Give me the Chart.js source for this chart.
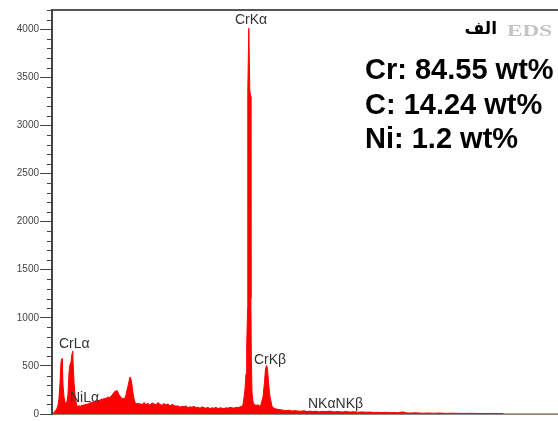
<!DOCTYPE html>
<html>
<head>
<meta charset="utf-8">
<script src="https://cdn.jsdelivr.net/npm/chart.js@4/dist/chart.umd.min.js"></script>
<style>
  html, body { margin: 0; padding: 0; background: #fff; }
  #wrap { position: relative; width: 558px; height: 421px; overflow: hidden; }
  canvas { position: absolute; left: 0; top: 0; }
  .comp { position: absolute; left: 365px; font: bold 29px "Liberation Sans", Arial, sans-serif; line-height: 29px; color: #000; white-space: nowrap; }
  #eds { position: absolute; left: 507px; top: 23px; font: bold 16px "Liberation Serif", "Times New Roman", serif; line-height: 16px; color: #c4c4c4; transform: scaleX(1.45); transform-origin: left top; }
  #alef { position: absolute; right: 61px; top: 18px; font: bold 17px "DejaVu Sans", sans-serif; line-height: 20px; color: #000; direction: rtl; }
</style>
</head>
<body>
<div id="wrap">
  <canvas id="c" width="558" height="421"></canvas>
  <div id="alef">الف</div>
  <div id="eds">EDS</div>
  <div class="comp" style="top:55px">Cr: 84.55 wt%</div>
  <div class="comp" style="top:90px">C: 14.24 wt%</div>
  <div class="comp" style="top:124px">Ni: 1.2 wt%</div>
</div>
<script>
// Spectrum: detector channel vs. counts
const channel = [
  0, 1, 2, 3, 4, 5, 6, 7, 8, 9, 10, 10.5, 11, 12, 13, 14, 15, 16, 17, 18, 19, 20, 20.7, 21, 22, 23, 24,
  25, 26, 27, 28, 29, 30, 31, 32, 33, 34, 35, 36, 37, 38, 39, 40, 41, 42, 43, 44, 45, 46, 47, 48, 49,
  50, 51, 52, 53, 54, 55, 56, 57, 58, 59, 60, 61, 62, 63, 64, 65, 66, 67, 68, 69, 70, 71, 72, 73, 74,
  75, 76, 77, 78, 79, 80, 81, 82, 83, 84, 85, 86, 87, 88,
  90, 92, 94, 96, 98, 100, 102, 104, 106, 108, 110, 112, 114, 116, 118, 120, 122, 124, 126, 128, 130,
  132, 134, 136, 138, 140, 142, 144, 146, 148, 150, 152, 154, 156, 158, 160, 162, 164, 166, 168, 170,
  172, 174, 176, 178, 180, 182, 184, 186, 188, 190,
  191, 192, 193, 194, 194.7, 195.6, 195.8, 196.8, 197.8, 198.6, 198.9, 199.3, 200, 201, 202,
  204, 206, 208, 209, 211, 212.5, 213.5, 214.7, 215.5, 216.5, 218, 220, 222,
  225, 228, 231, 234, 237, 240, 243, 246, 249, 252, 255, 258, 261, 264, 267, 270, 274, 278, 282, 286,
  290, 294, 298, 302, 306, 310, 314, 318, 322, 326, 330, 334, 338, 342, 346, 348, 351, 354, 358, 364,
  370, 376, 382, 388, 394, 400, 410, 420, 430, 440, 450, 452, 506
];
const counts = [
  0, 5, 15, 30, 40, 60, 90, 160, 320, 540, 575, 470, 300, 180, 120, 110, 130, 210, 430, 515, 540, 630, 655, 560, 330, 200, 130,
  85, 70, 90, 75, 85, 95, 80, 100, 90, 105, 95, 110, 100, 120, 110, 125, 115, 130, 120, 140, 125, 145, 135, 150, 140,
  160, 145, 165, 155, 170, 160, 180, 165, 175, 185, 195, 210, 225, 235, 240, 245, 225, 200, 185, 175, 160, 165, 155, 170, 200,
  250, 290, 340, 385, 360, 300, 220, 160, 120, 110, 105, 115, 100, 110,
  95, 120, 100, 110, 90, 115, 105, 95, 120, 100, 90, 110, 95, 105, 85, 100, 90, 80, 85, 70, 80,
  75, 85, 65, 75, 70, 80, 65, 70, 60, 75, 65, 60, 70, 55, 65, 60, 70, 55, 65, 60,
  55, 65, 60, 70, 65, 60, 70, 65, 75, 80,
  100, 170, 260, 420, 710, 1100, 3370, 4010, 3370, 3300, 1200, 600, 220, 130, 100,
  90, 95, 80, 100, 180, 330, 470, 505, 470, 330, 180, 80, 60,
  50, 45, 40, 35, 40, 30, 35, 30, 28, 35, 25, 30, 25, 30, 22, 28, 25, 30, 22, 26,
  20, 25, 20, 24, 18, 22, 18, 20, 16, 18, 15, 18, 14, 16, 12, 18, 22, 12, 10, 12,
  8, 10, 8, 10, 6, 8, 6, 7, 5, 6, 5, 0, 0
];

// Count axis
const yMax = 4200;
const majorTicks = [0, 500, 1000, 1500, 2000, 2500, 3000, 3500, 4000];
const majorLabels = ['0', '500', '1000', '1500', '2000', '2500', '3000', '3500', '4000'];
const minorStep = 100;

// Line identifications
const peakNames = ['CrKα', 'CrLα', 'NiLα', 'CrKβ', 'NKαNKβ'];
const peakX = [183, 7, 18, 202, 256];
const peakY = [4056, 688, 128, 524, 62];

const axisColor = '#444';

const minorTickPlugin = {
  id: 'minorTicks',
  afterDraw(chart) {
    const y = chart.scales.y;
    const ctx = chart.ctx;
    ctx.save();
    ctx.strokeStyle = axisColor;
    ctx.lineWidth = 1;
    ctx.beginPath();
    for (let v = minorStep; v <= yMax; v += minorStep) {
      if (majorTicks.includes(v)) continue;
      const py = Math.round(y.getPixelForValue(v)) + 0.5;
      ctx.moveTo(y.right - 5, py);
      ctx.lineTo(y.right, py);
    }
    ctx.stroke();
    ctx.restore();
  }
};

const peakLabelPlugin = {
  id: 'peakLabels',
  afterDatasetsDraw(chart) {
    const { ctx, scales: { x, y } } = chart;
    ctx.save();
    ctx.font = '14px "Liberation Sans", Arial, sans-serif';
    ctx.fillStyle = '#333';
    ctx.textAlign = 'left';
    ctx.textBaseline = 'alphabetic';
    peakNames.forEach((t, i) => {
      ctx.fillText(t, x.getPixelForValue(peakX[i]), y.getPixelForValue(peakY[i]));
    });
    ctx.restore();
  }
};

new Chart(document.getElementById('c'), {
  type: 'line',
  data: {
    datasets: [{
      data: channel.map((c, i) => ({ x: c, y: counts[i] })),
      borderColor: '#ff0000',
      backgroundColor: '#ff0000',
      borderWidth: 1,
      pointRadius: 0,
      tension: 0,
      fill: 'origin'
    }]
  },
  options: {
    responsive: false,
    animation: false,
    layout: { padding: 0 },
    plugins: { legend: { display: false }, tooltip: { enabled: false }, title: { display: false } },
    scales: {
      x: {
        type: 'linear', position: 'bottom', min: 0, max: 506,
        ticks: { display: false },
        grid: { display: false },
        border: { display: true, color: '#888', width: 1 },
        afterFit: s => { s.height = 2; }
      },
      xTop: {
        type: 'linear', position: 'top', min: 0, max: 506,
        ticks: { display: false },
        grid: { display: false },
        border: { display: true, color: '#555', width: 2 },
        afterFit: s => { s.height = 10; }
      },
      y: {
        type: 'linear', position: 'left', min: 0, max: yMax,
        afterBuildTicks: s => { s.ticks = majorTicks.map(v => ({ value: v })); },
        ticks: {
          color: axisColor,
          padding: 1,
          font: { family: '"Liberation Sans", Arial, sans-serif', size: 10 },
          callback: v => majorLabels[majorTicks.indexOf(v)]
        },
        grid: { drawOnChartArea: false, tickLength: 12, tickColor: axisColor, tickWidth: 1 },
        border: { display: true, color: axisColor, width: 2 },
        afterFit: s => { s.width = 52; }
      }
    }
  },
  plugins: [minorTickPlugin, peakLabelPlugin]
});
</script>
</body>
</html>
